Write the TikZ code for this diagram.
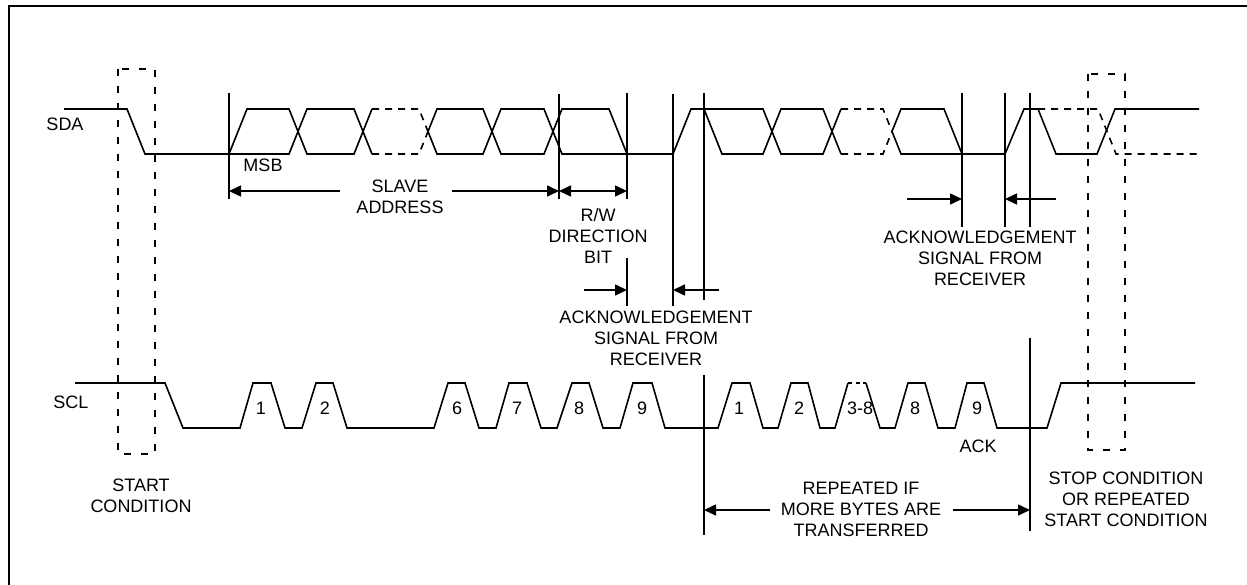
\documentclass[tikz,border=0pt]{standalone}
\usepackage{fontspec}
\setmainfont{Liberation Sans}
\usetikzlibrary{arrows.meta}
\begin{document}
\begin{tikzpicture}[x=1pt,y=-1pt,
  sig/.style={line width=1.6pt, line join=miter},
  dsig/.style={line width=1.6pt, dash pattern=on 7pt off 6pt},
  dbox/.style={line width=1.8pt, dash pattern=on 7pt off 10pt},
  vline/.style={line width=1.6pt},
  dim/.style={line width=1.6pt, -{Triangle[length=12pt,width=11pt]}},
  ddim/.style={line width=1.6pt, {Triangle[length=12pt,width=11pt]}-{Triangle[length=12pt,width=11pt]}},
  lbl/.style={font=\fontsize{18}{21}\selectfont, align=center, inner sep=0pt},
]
\useasboundingbox (0,0) rectangle (1247,585);
% frame
\draw[line width=2.4pt] (9,585) -- (9,6) -- (1247,6);

% ---------- SDA ----------
\def\H{109}\def\L{154}\def\M{131.5}
\draw[sig] (64,\H) -- (127,\H) -- (145,\L) -- (289,\L) -- (307,\H) -- (354,\H) -- (372,\L);
\draw[sig] (229,\L) -- (247,\H) -- (289,\H) -- (307,\L) -- (354,\L) -- (372,\H);
\draw[dsig] (372,\H) -- (419,\H) -- (428,\M);
\draw[dsig] (372,\L) -- (419,\L) -- (428,\M);
\draw[sig] (428,\M) -- (437,\H) -- (483,\H) -- (501,\L) -- (544,\L) -- (562,\H) -- (609,\H) -- (627,\L) -- (673,\L) -- (691,\H) -- (763,\H) -- (781,\L) -- (823,\L) -- (841,\H);
\draw[sig] (428,\M) -- (437,\L) -- (483,\L) -- (501,\H) -- (544,\H) -- (562,\L) -- (627,\L);
\draw[sig] (704,\H) -- (722,\L) -- (763,\L) -- (781,\H) -- (823,\H) -- (841,\L);
\draw[dsig] (841,\H) -- (883,\H) -- (892,\M);
\draw[dsig] (841,\L) -- (883,\L) -- (892,\M);
\draw[sig] (892,\M) -- (901,\H) -- (944,\H) -- (962,\L) -- (1005,\L) -- (1024,\H) -- (1038,\H) -- (1056,\L) -- (1097,\L) -- (1115,\H) -- (1199,\H);
\draw[sig] (892,\M) -- (901,\L) -- (962,\L);
\draw[dsig] (1038,\H) -- (1098,\H) -- (1116,\L) -- (1200,\L);

% ---------- SCL ----------
\def\HH{383}\def\LL{428}
\draw[sig] (75,\HH) -- (165,\HH) -- (183,\LL) -- (240,\LL) -- (253,\HH) -- (271,\HH) -- (285,\LL) -- (302,\LL) -- (316,\HH) -- (333,\HH) -- (347,\LL) -- (434,\LL) -- (448,\HH) -- (465,\HH) -- (479,\LL) -- (496,\LL) -- (509,\HH) -- (527,\HH) -- (541,\LL) -- (557,\LL) -- (572,\HH) -- (589,\HH) -- (603,\LL) -- (620,\LL) -- (633,\HH) -- (652,\HH) -- (665,\LL) -- (718,\LL) -- (732,\HH) -- (750,\HH) -- (763,\LL) -- (778,\LL) -- (791,\HH) -- (808,\HH) -- (820,\LL) -- (835,\LL) -- (848,\HH);
\draw[line width=1.6pt, dash pattern=on 4pt off 3.5pt] (848,\HH) -- (866,\HH);
\draw[sig] (866,\HH) -- (880,\LL) -- (895,\LL) -- (908,\HH) -- (925,\HH) -- (938,\LL) -- (955,\LL) -- (967,\HH) -- (984,\HH) -- (997,\LL) -- (1047,\LL) -- (1061,\HH) -- (1195,\HH);

% dashed condition boxes
\draw[dbox] (118,69) rectangle (155,454);
\draw[dbox] (1088,74) rectangle (1125,450);

% ---------- marker lines ----------
\coordinate (v1t) at (229,93);   \coordinate (v1b) at (229,199);
\coordinate (v2t) at (559,94);   \coordinate (v2b) at (559,199);
\coordinate (v3t) at (627,93);   \coordinate (v3b) at (627,199);
\coordinate (v3u) at (627,258);  \coordinate (v3v) at (627,306);
\coordinate (v4t) at (673,94);   \coordinate (v4b) at (673,306);
\coordinate (v5t) at (704,93);   \coordinate (v5b) at (704,300);
\coordinate (v5u) at (704,375);  \coordinate (v5v) at (704,535);
\coordinate (v6t) at (962,93);   \coordinate (v6b) at (962,227);
\coordinate (v7t) at (1005,93);  \coordinate (v7b) at (1005,227);
\coordinate (v8t) at (1030,93);  \coordinate (v8b) at (1030,227);
\coordinate (v8u) at (1030,338); \coordinate (v8v) at (1030,531);
\foreach \a/\b in {v1t/v1b,v2t/v2b,v3t/v3b,v3u/v3v,v4t/v4b,v5t/v5b,v5u/v5v,v6t/v6b,v7t/v7b,v8t/v8b,v8u/v8v}
  \draw[vline] (\a) -- (\b);

% ---------- dimension arrows ----------
\coordinate (saA) at (340,191); \coordinate (saL) at (229,191);
\coordinate (saB) at (452,191); \coordinate (saR) at (559,191);
\coordinate (rwR) at (627,191);
\draw[dim] (saA) -- (saL);
\draw[dim] (saB) -- (saR);
\draw[ddim] (saR) -- (rwR);

\coordinate (a1A) at (584,290); \coordinate (a1L) at (627,290);
\coordinate (a1B) at (719,290); \coordinate (a1R) at (673,290);
\draw[dim] (a1A) -- (a1L);
\draw[dim] (a1B) -- (a1R);

\coordinate (a2A) at (907,199);  \coordinate (a2L) at (962,199);
\coordinate (a2B) at (1056,199); \coordinate (a2R) at (1005,199);
\draw[dim] (a2A) -- (a2L);
\draw[dim] (a2B) -- (a2R);

\coordinate (rpA) at (770,510);  \coordinate (rpL) at (704,510);
\coordinate (rpB) at (953,510);  \coordinate (rpR) at (1030,510);
\draw[dim] (rpA) -- (rpL);
\draw[dim] (rpB) -- (rpR);

% ---------- labels ----------
\node[lbl] (sda) at (65,124) {SDA};
\node[lbl] (scl) at (71,402) {SCL};
\node[lbl] (msb) at (263,165) {MSB};
\node[lbl] (slave) at (400,196.5) {SLAVE\\ADDRESS};
\node[lbl] (rw) at (598,236) {R/W\\DIRECTION\\BIT};
\node[lbl] (ack1) at (656,338.5) {ACKNOWLEDGEMENT\\SIGNAL FROM\\RECEIVER};
\node[lbl] (ack2) at (980,258) {ACKNOWLEDGEMENT\\SIGNAL FROM\\RECEIVER};
\node[lbl] (start) at (141,495.5) {START\\CONDITION};
\node[lbl] (rep) at (861,509.5) {REPEATED IF\\MORE BYTES ARE\\TRANSFERRED};
\node[lbl] (stop) at (1126,499.5) {STOP CONDITION\\OR REPEATED\\START CONDITION};
\node[lbl] (ack) at (978,446) {ACK};

\node[lbl] (n1) at (261,408) {1};
\node[lbl] (n2) at (325,408) {2};
\node[lbl] (n6) at (457,408) {6};
\node[lbl] (n7) at (517,408) {7};
\node[lbl] (n8) at (579,408) {8};
\node[lbl] (n9) at (642,408) {9};
\node[lbl] (m1) at (739,408) {1};
\node[lbl] (m2) at (799,408) {2};
\node[lbl] (m38) at (860,408) {3-8};
\node[lbl] (m8) at (915,408) {8};
\node[lbl] (m9) at (977,408) {9};
\end{tikzpicture}
\end{document}
